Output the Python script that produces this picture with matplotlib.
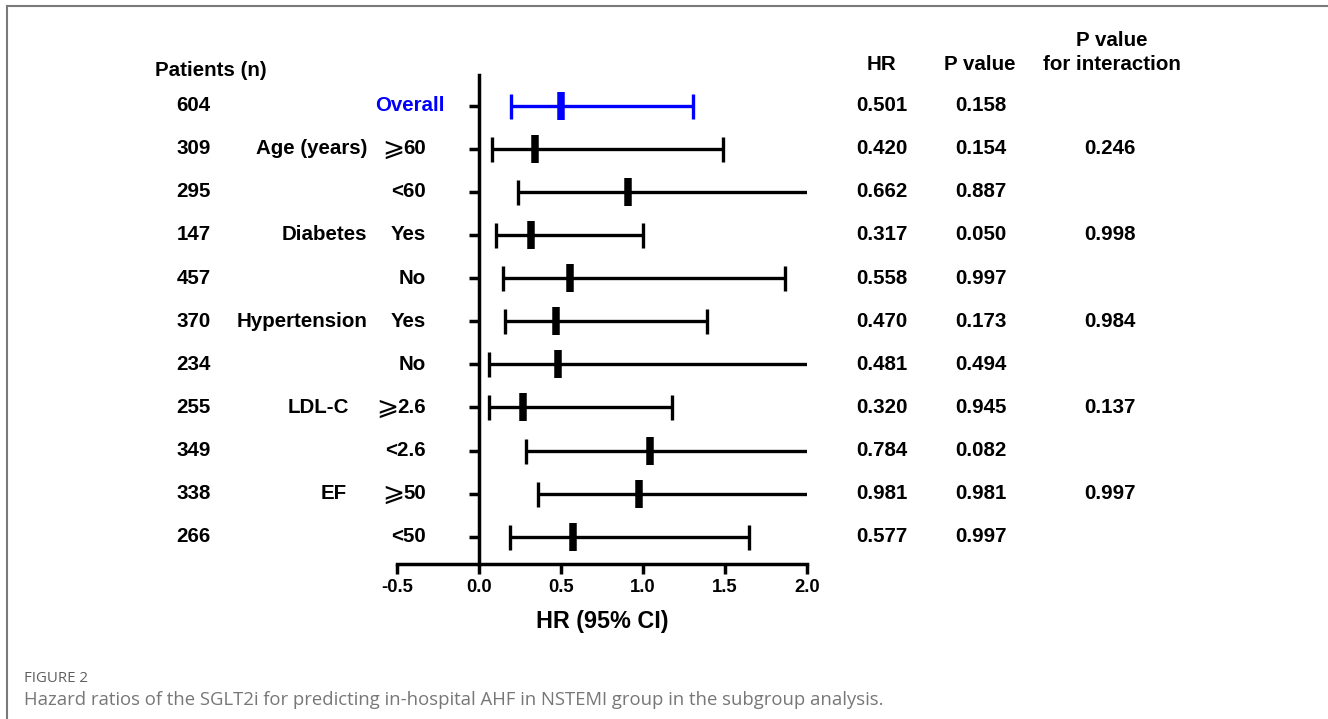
import matplotlib
matplotlib.use("Agg")
import matplotlib.pyplot as plt
import matplotlib.transforms as mtransforms
from matplotlib.lines import Line2D

# ---------------- data ----------------
patients_n = ["604", "309", "295", "147", "457", "370", "234", "255", "349", "338", "266"]
groups = ["", "Age (years)", "", "Diabetes", "", "Hypertension", "", "LDL-C", "", "EF", ""]
subgroups = ["Overall", "⩾60", "<60", "Yes", "No", "Yes", "No", "⩾2.6", "<2.6", "⩾50", "<50"]
hr_point = [0.50, 0.344, 0.908, 0.317, 0.557, 0.47, 0.48, 0.27, 1.046, 0.979, 0.576]
ci_lower = [0.193, 0.079, 0.24, 0.102, 0.148, 0.159, 0.061, 0.063, 0.287, 0.36, 0.187]
ci_upper = [1.308, 1.49, 2.6, 1.001, 1.87, 1.39, 2.6, 1.178, 2.6, 2.6, 1.648]
hr_text = ["0.501", "0.420", "0.662", "0.317", "0.558", "0.470", "0.481", "0.320", "0.784", "0.981", "0.577"]
p_text = ["0.158", "0.154", "0.887", "0.050", "0.997", "0.173", "0.494", "0.945", "0.082", "0.981", "0.997"]
p_inter = ["", "0.246", "", "0.998", "", "0.984", "", "0.137", "", "0.997", ""]
xticks = [-0.5, 0.0, 0.5, 1.0, 1.5, 2.0]
xtick_labels = ["-0.5", "0.0", "0.5", "1.0", "1.5", "2.0"]

# ---------------- layout ----------------
W, H = 1328, 719
FONT = ["Liberation Sans", "DejaVu Sans"]
plt.rcParams["font.family"] = FONT
fig = plt.figure(figsize=(W / 100, H / 100), dpi=100)

ax_left, ax_right = 397, 806.7
ax_top, ax_bot = 75, 564
ax = fig.add_axes([ax_left / W, 1 - ax_bot / H, (ax_right - ax_left) / W, (ax_bot - ax_top) / H])

n = len(hr_point)
rows = list(range(n))
ax.set_xlim(-0.5, 2.0)
ax.set_ylim(10.63, -0.71)

for i in rows:
    col = "#0000ff" if i == 0 else "black"
    ax.errorbar([hr_point[i]], [i],
                xerr=[[hr_point[i] - ci_lower[i]], [ci_upper[i] - hr_point[i]]],
                fmt="none", ecolor=col, elinewidth=2.4, capsize=9, capthick=2.4, zorder=3)
    ax.plot([hr_point[i]], [i], marker="|", ms=20.5, mew=5.4, color=col, zorder=4,
            linestyle="none")

for s in ["top", "right"]:
    ax.spines[s].set_visible(False)
ax.spines["left"].set_position(("data", 0))
ax.spines["left"].set_linewidth(2.5)
ax.spines["bottom"].set_linewidth(2.5)
ax.set_yticks(rows)
ax.set_yticklabels([])
ax.tick_params(axis="y", direction="out", length=7, width=2.5)
ax.set_xticks(xticks)
ax.set_xticklabels(xtick_labels, fontsize=13.3, fontweight="bold")
ax.tick_params(axis="x", direction="out", length=7, width=2.5, pad=4)
ax.set_xlabel("HR (95% CI)", fontsize=16.8, fontweight="bold", labelpad=10)

# text columns
tr = mtransforms.blended_transform_factory(fig.transFigure, ax.transData)
FS = 14.8
group_right = {1: 367, 3: 367, 5: 368, 7: 349, 9: 347}

def fx(px):
    return px / W

for i in rows:
    fig.text(fx(193.5), i, patients_n[i], transform=tr, ha="center", va="center",
             fontsize=FS, fontweight="bold")
    if groups[i]:
        fig.text(fx(group_right[i]), i, groups[i], transform=tr, ha="right", va="center",
                 fontsize=FS, fontweight="bold")
    lab = subgroups[i]
    if i == 0:
        fig.text(fx(445), i, lab, transform=tr, ha="right", va="center",
                 fontsize=FS, fontweight="bold", color="#0000ff")
    elif lab.startswith("⩾"):
        t = fig.text(fx(426), i, lab[1:], transform=tr, ha="right", va="center",
                     fontsize=FS, fontweight="bold")
        ax.annotate("⩾", xy=(0, 0.5), xycoords=t, xytext=(0.5, 0),
                    textcoords="offset points", ha="right", va="center",
                    fontsize=19, fontweight="normal", family=["DejaVu Sans"])
    else:
        fig.text(fx(426), i, lab, transform=tr, ha="right", va="center",
                 fontsize=FS, fontweight="bold")
    fig.text(fx(882), i, hr_text[i], transform=tr, ha="center", va="center",
             fontsize=FS, fontweight="bold")
    fig.text(fx(980.5), i, p_text[i], transform=tr, ha="center", va="center",
             fontsize=FS, fontweight="bold")
    if p_inter[i]:
        fig.text(fx(1110), i, p_inter[i], transform=tr, ha="center", va="center",
                 fontsize=FS, fontweight="bold")

# headers
fig.text(fx(155), 1 - 70 / H, "Patients (n)", ha="left", va="center", fontsize=FS, fontweight="bold")
fig.text(fx(881), 1 - 65 / H, "HR", ha="center", va="center", fontsize=FS, fontweight="bold")
fig.text(fx(980), 1 - 65 / H, "P value", ha="center", va="center", fontsize=FS, fontweight="bold")
fig.text(fx(1112), 1 - 40 / H, "P value", ha="center", va="center", fontsize=FS, fontweight="bold")
fig.text(fx(1112), 1 - 64 / H, "for interaction", ha="center", va="center", fontsize=FS, fontweight="bold")

# caption
fig.text(fx(24), 1 - 679 / H, "FIGURE 2", ha="left", va="center", fontsize=10.8,
         color="#5e5e5e", family=["Open Sans", "DejaVu Sans"])
fig.text(fx(24), 1 - 700 / H,
         "Hazard ratios of the SGLT2i for predicting in-hospital AHF in NSTEMI group in the subgroup analysis.",
         ha="left", va="center", fontsize=13.3, color="#777777", family=["Open Sans", "DejaVu Sans"])

# frame
fig.add_artist(Line2D([6.5 / W, 1], [1 - 5.5 / H, 1 - 5.5 / H], transform=fig.transFigure,
                      color="#7a7a7a", lw=1.5))
fig.add_artist(Line2D([6.5 / W, 6.5 / W], [0, 1 - 5.5 / H], transform=fig.transFigure,
                      color="#7a7a7a", lw=1.5))

fig.savefig("out.png", dpi=100)
